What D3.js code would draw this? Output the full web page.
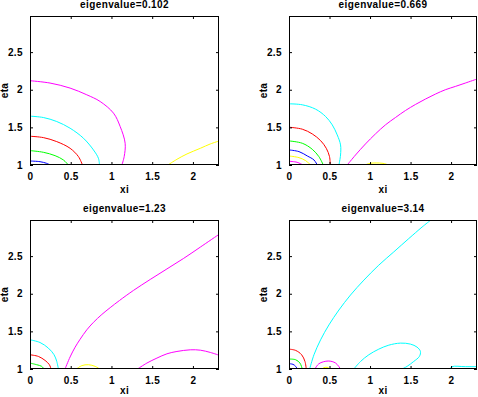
<!DOCTYPE html>
<html><head><meta charset="utf-8">
<script src="https://cdn.jsdelivr.net/npm/d3@7"></script>
<style>
body{margin:0;background:#fff;}
text{font-family:"Liberation Sans",Arial,sans-serif;font-weight:bold;font-size:10px;letter-spacing:0.4px;fill:#000;}
</style></head>
<body><svg id="c" width="478" height="397"></svg>
<script>
const titles = ["eigenvalue=0.102","eigenvalue=0.669","eigenvalue=1.23","eigenvalue=3.14"];
const xTicks = [0,0.5,1,1.5,2];
const yTicks = [1,1.5,2,2.5];
const xDomain = [0,2.32];
const yDomain = [1,2.98];
const colors = {blue:"#0000ff",green:"#00ff00",red:"#ff0000",cyan:"#00ffff",magenta:"#ff00ff",yellow:"#ffff00"};

// Panel 1 (eigenvalue=0.102)
const p1Blue = [[0,1.053],[0.123,1.044],[0.205,1.022],[0.246,1.0]];
const p1Green = [[0,1.191],[0.164,1.169],[0.308,1.124],[0.41,1.067],[0.471,1.0]];
const p1Red = [[0,1.382],[0.164,1.364],[0.328,1.311],[0.492,1.222],[0.595,1.111],[0.644,1.0]];
const p1Cyan = [[0,1.649],[0.164,1.631],[0.328,1.578],[0.492,1.489],[0.656,1.356],[0.779,1.2],[0.84,1.089],[0.853,1.0]];
const p1Magenta = [[0,2.12],[0.246,2.089],[0.492,2.022],[0.697,1.933],[0.861,1.844],[1.025,1.689],[1.107,1.511],[1.168,1.289],[1.156,1.111],[1.128,1.0]];
const p1Yellow = [[1.693,1.0],[1.804,1.076],[1.927,1.147],[2.091,1.222],[2.214,1.28],[2.325,1.32]];

// Panel 2 (eigenvalue=0.669)
const p2MagentaSmall = [[0,1.05],[0.1,1.036],[0.172,1.0]];
const p2Yellow = [[0,1.12],[0.123,1.098],[0.205,1.058],[0.267,1.0]];
const p2Blue = [[0,1.2],[0.123,1.178],[0.226,1.12],[0.308,1.067],[0.349,1.0]];
const p2Green = [[0,1.32],[0.164,1.289],[0.287,1.209],[0.369,1.111],[0.423,1.0]];
const p2Red = [[0,1.502],[0.164,1.476],[0.287,1.413],[0.39,1.324],[0.46,1.222],[0.5,1.111],[0.509,1.0]];
const p2Cyan = [[0,1.813],[0.164,1.8],[0.328,1.742],[0.452,1.644],[0.534,1.533],[0.595,1.4],[0.636,1.267],[0.636,1.133],[0.616,1.0]];
const p2Magenta = [[0.718,1.0],[0.821,1.133],[0.944,1.28],[1.067,1.413],[1.19,1.533],[1.314,1.631],[1.437,1.724],[1.56,1.804],[1.683,1.876],[1.806,1.942],[1.929,2.0],[2.053,2.044],[2.176,2.089],[2.319,2.142]];
const p2YellowArc = [[0.936,1.0],[1.0,1.022],[1.076,1.027],[1.16,1.022],[1.23,1.0]];

// Panel 3 (eigenvalue=1.23)
const p3Blue = [[0,1.012],[0.02,1.0]];
const p3Green = [[0,1.079],[0.082,1.057],[0.144,1.035],[0.172,1.0]];
const p3Red = [[0,1.189],[0.103,1.167],[0.185,1.114],[0.238,1.057],[0.258,1.0]];
const p3Cyan = [[0,1.388],[0.123,1.352],[0.225,1.278],[0.295,1.19],[0.328,1.102],[0.349,1.0]];
const p3Magenta = [[0.43,1.0],[0.492,1.16],[0.554,1.29],[0.615,1.395],[0.697,1.52],[0.779,1.62],[0.882,1.725],[0.984,1.815],[1.098,1.91],[1.271,2.045],[1.476,2.19],[1.681,2.33],[1.886,2.47],[2.091,2.62],[2.316,2.786]];
const p3Yellow = [[0.57,1.0],[0.636,1.045],[0.717,1.057],[0.8,1.035],[0.855,1.0]];
const p3MagentaArc = [[1.32,1.0],[1.435,1.079],[1.558,1.145],[1.681,1.202],[1.804,1.233],[1.968,1.255],[2.091,1.25],[2.214,1.22],[2.329,1.18]];

// Panel 4 (eigenvalue=3.14)
const p4Yellow = [[0,1.013],[0.05,1.0]];
const p4Blue = [[0,1.07],[0.049,1.062],[0.082,1.035],[0.103,1.0]];
const p4Green = [[0,1.132],[0.082,1.123],[0.135,1.079],[0.164,1.0]];
const p4Red = [[0,1.264],[0.082,1.247],[0.156,1.189],[0.197,1.1],[0.213,1.0]];
const p4Cyan = [[0.255,1.0],[0.308,1.189],[0.39,1.388],[0.493,1.586],[0.616,1.784],[0.759,1.983],[0.924,2.181],[1.108,2.38],[1.293,2.556],[1.478,2.733],[1.642,2.886],[1.745,2.975]];
const p4Magenta = [[0.32,1.0],[0.369,1.07],[0.484,1.106],[0.575,1.079],[0.636,1.0]];
const p4YellowArc = [[0.41,1.0],[0.43,1.018],[0.48,1.02],[0.5,1.0]];
const p4CyanLoop = [[0.8,1.0],[0.883,1.1],[0.985,1.189],[1.108,1.264],[1.232,1.317],[1.375,1.344],[1.498,1.331],[1.58,1.291],[1.622,1.233],[1.609,1.167],[1.539,1.1],[1.457,1.035],[1.396,1.0]];
const p4CyanFlat = [[1.983,1.0],[2.011,1.031],[2.176,1.031],[2.328,1.031]];

const panels = [
  {title:titles[0], box:[30,219,16,165], xl:28, curves:[[p1Blue,"blue"],[p1Green,"green"],[p1Red,"red"],[p1Cyan,"cyan"],[p1Magenta,"magenta"],[p1Yellow,"yellow"]]},
  {title:titles[1], box:[289,477,16,165], xl:28, curves:[[p2MagentaSmall,"magenta"],[p2Yellow,"yellow"],[p2Blue,"blue"],[p2Green,"green"],[p2Red,"red"],[p2Cyan,"cyan"],[p2Magenta,"magenta"],[p2YellowArc,"yellow"]]},
  {title:titles[2], box:[30,219,220,369], xl:25, curves:[[p3Blue,"blue"],[p3Green,"green"],[p3Red,"red"],[p3Cyan,"cyan"],[p3Magenta,"magenta"],[p3Yellow,"yellow"],[p3MagentaArc,"magenta"]]},
  {title:titles[3], box:[289,477,220,369], xl:25, curves:[[p4Yellow,"yellow"],[p4Blue,"blue"],[p4Green,"green"],[p4Red,"red"],[p4Cyan,"cyan"],[p4Magenta,"magenta"],[p4YellowArc,"yellow"],[p4CyanLoop,"cyan"],[p4CyanFlat,"cyan"]]}
];

const svg = d3.select("#c");
panels.forEach((p,i)=>{
  const [l,r,t,b] = p.box;
  const x = d3.scaleLinear().domain(xDomain).range([l,r]);
  const y = d3.scaleLinear().domain(yDomain).range([b,t]);
  const g = svg.append("g");
  svg.append("clipPath").attr("id","clip"+i).append("rect").attr("x",l).attr("y",t).attr("width",r-l).attr("height",b-t);
  const line = d3.line().x(d=>x(d[0])).y(d=>y(d[1])).curve(d3.curveCatmullRom.alpha(0.5));
  const cg = g.append("g").attr("clip-path","url(#clip"+i+")");
  p.curves.forEach(([pts,c])=>{
    cg.append("path").attr("d",line(pts)).attr("fill","none").attr("stroke",colors[c]).attr("stroke-width",1);
  });
  const fmt = d=>String(d);
  g.append("g").attr("transform",`translate(0,${b})`).call(d3.axisBottom(x).tickValues(xTicks).tickSize(-3).tickPadding(8).tickFormat(fmt));
  g.append("g").attr("transform",`translate(0,${t})`).call(d3.axisTop(x).tickValues(xTicks).tickSize(-3).tickFormat(""));
  g.append("g").attr("transform",`translate(${l},0)`).call(d3.axisLeft(y).tickValues(yTicks).tickSize(-3).tickPadding(7).tickFormat(fmt));
  g.append("g").attr("transform",`translate(${r},0)`).call(d3.axisRight(y).tickValues(yTicks).tickSize(-3).tickFormat(""));
  g.selectAll(".domain").remove();
  g.selectAll(".tick line").attr("stroke","#000");
  g.selectAll(".tick text").attr("font-size",null).attr("font-family",null).style("font-size","10px");
  g.append("rect").attr("x",l+0.5).attr("y",t+0.5).attr("width",r-l-1).attr("height",b-t-1).attr("fill","none").attr("stroke","#000");
  g.append("text").attr("x",(l+r)/2).attr("y",t-8).attr("text-anchor","middle").text(p.title);
  g.append("text").attr("x",(l+r)/2).attr("y",b+p.xl).attr("text-anchor","middle").text("xi");
  g.append("text").attr("transform",`translate(${l-22},${(t+b)/2}) rotate(-90)`).attr("text-anchor","middle").text("eta");
});
</script></body></html>
